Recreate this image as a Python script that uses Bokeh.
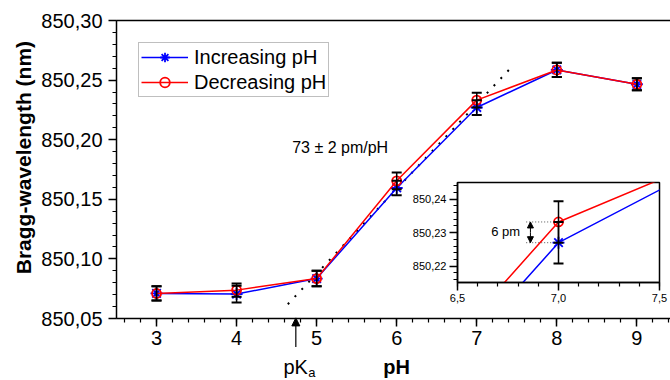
import math
from bokeh.plotting import figure
from bokeh.models import (Range1d, FixedTicker, CustomJSTickFormatter, Label, Arrow,
                          NormalHead, Legend, LegendItem, LinearAxis, Column)
from bokeh.embed import file_html
from bokeh.resources import INLINE

# ---------------- data ----------------
ph = [3, 4, 5, 6, 7, 8, 9]
inc = [850.0710, 850.0705, 850.0835, 850.1595, 850.2270, 850.2585, 850.2465]
dec = [850.0710, 850.0738, 850.0835, 850.1655, 850.2332, 850.2585, 850.2465]
inc_err = [0.0060, 0.0070, 0.0065, 0.0060, 0.0062, 0.0060, 0.0050]
dec_err = [0.0060, 0.0056, 0.0065, 0.0070, 0.0062, 0.0060, 0.0050]
fit_x = [4.64, 7.45]
fit_y = [850.062, 850.262]
pka = 4.74
x_ticks = [3, 4, 5, 6, 7, 8, 9]
y_ticks = [850.05, 850.10, 850.15, 850.20, 850.25, 850.30]
inset_x_ticks = [6.5, 7.0, 7.5]
inset_y_ticks = [850.22, 850.23, 850.24]
delta_x = [6.84, 7.0]   # extent of the 6 pm guide lines
slope_text = "73 ± 2 pm/pH"

FONT = "Liberation Sans"
BLUE = "#0000ff"
RED = "#ff0000"

W, H = 670, 380
L, R, T, B = 116, 0, 20, 62
X0, X1 = 2.5, 9.42
Y0, Y1 = 850.05, 850.30


def comma_fmt(nd):
    return CustomJSTickFormatter(code=f"return tick.toFixed({nd}).replace('.', ',');")


def style_axis(ax, tick_font, major_out, minor_out, standoff):
    ax.axis_line_width = 1.5
    ax.axis_line_color = "black"
    ax.major_tick_line_color = "black"
    ax.minor_tick_line_color = "black"
    ax.major_tick_line_width = 1.5
    ax.minor_tick_line_width = 1.2
    ax.major_tick_in = 0
    ax.major_tick_out = major_out
    ax.minor_tick_in = 0
    ax.minor_tick_out = minor_out
    ax.major_label_text_font = FONT
    ax.major_label_text_font_size = tick_font
    ax.major_label_text_color = "black"
    ax.major_label_standoff = standoff


def text_label(**kw):
    kw.setdefault("text_font", FONT)
    kw.setdefault("text_color", "black")
    return Label(**kw)


def draw_series(fig):
    rbl = fig.line(ph, inc, line_color=BLUE, line_width=1.5)
    rbm = fig.scatter(ph, inc, marker="asterisk", size=12, line_color=BLUE, line_width=1.8)
    rrl = fig.line(ph, dec, line_color=RED, line_width=1.5)
    rrm = fig.scatter(ph, dec, marker="circle", size=9, line_color=RED,
                      fill_color=None, line_width=1.8)
    for vals, errs in ((inc, inc_err), (dec, dec_err)):
        lo = [v - e for v, e in zip(vals, errs)]
        hi = [v + e for v, e in zip(vals, errs)]
        fig.segment(x0=ph, y0=lo, x1=ph, y1=hi, line_color="black", line_width=1.5)
        fig.scatter(ph, lo, marker="dash", size=10, line_color="black", line_width=2)
        fig.scatter(ph, hi, marker="dash", size=10, line_color="black", line_width=2)
    return rbl, rbm, rrl, rrm


# ---------------- main figure ----------------
p = figure(width=W, height=H, x_range=Range1d(X0, X1), y_range=Range1d(Y0, Y1),
           output_backend="svg", toolbar_location=None, frame_align=False,
           min_border_left=L, min_border_right=R, min_border_top=T, min_border_bottom=B)
p.outline_line_color = None
p.grid.visible = False
p.background_fill_color = "white"
p.border_fill_color = "white"

p.xaxis.ticker = FixedTicker(ticks=x_ticks,
                             minor_ticks=[round(2.6 + 0.2 * i, 1) for i in range(35)])
p.yaxis.ticker = FixedTicker(ticks=y_ticks,
                             minor_ticks=[round(850.05 + 0.01 * i, 2) for i in range(26)])
p.yaxis.formatter = comma_fmt(2)
style_axis(p.xaxis[0], "20px", 8, 4, 4)
style_axis(p.yaxis[0], "20px", 8, 4, 6)

top = LinearAxis(ticker=FixedTicker(ticks=[], minor_ticks=[]), major_tick_out=0, minor_tick_out=0,
                 major_label_text_font_size="0px", axis_line_width=1.5)
p.add_layout(top, "above")

p.line(fit_x, fit_y, line_color="black", line_dash="2 8", line_width=2)
rbl, rbm, rrl, rrm = draw_series(p)

legend = Legend(items=[LegendItem(label="Increasing pH", renderers=[rbl, rbm]),
                       LegendItem(label="Decreasing pH", renderers=[rrl, rrm])],
                location="top_left", margin=22, padding=2, spacing=1,
                glyph_width=47, glyph_height=24, label_height=24, label_standoff=6,
                label_text_font=FONT, label_text_font_size="20px", label_text_color="black",
                border_line_color="#808080", border_line_width=1.2,
                background_fill_color="white", background_fill_alpha=1)
p.add_layout(legend)

p.add_layout(text_label(x=5.294, y=850.1934, text=slope_text, text_align="center",
                        text_baseline="middle", text_font_size="16px"))

# ---------------- inset ----------------
ins = figure(width=264, height=128, x_range=Range1d(6.5, 7.5), y_range=Range1d(850.2151, 850.245),
             output_backend="svg", toolbar_location=None, frame_align=False,
             min_border_left=52, min_border_right=10, min_border_top=2, min_border_bottom=26)
ins.grid.visible = False
ins.outline_line_color = "black"
ins.outline_line_width = 1.5
ins.background_fill_color = "white"
ins.border_fill_color = None
ins.xaxis.ticker = FixedTicker(ticks=inset_x_ticks,
                               minor_ticks=[round(6.5 + 0.1 * i, 1) for i in range(11)])
ins.yaxis.ticker = FixedTicker(ticks=inset_y_ticks,
                               minor_ticks=[round(850.216 + 0.002 * i, 3) for i in range(15)])
ins.xaxis.formatter = comma_fmt(1)
ins.yaxis.formatter = comma_fmt(2)
style_axis(ins.xaxis[0], "11px", 8, 4, 3)
style_axis(ins.yaxis[0], "11px", 8, 4, 3)

guide_y = [dec[4], inc[4]]
ins.segment(x0=[delta_x[0]] * 2, y0=guide_y, x1=[delta_x[1]] * 2, y1=guide_y,
            line_color="#555555", line_dash="1 2", line_width=1)
draw_series(ins)
mid = (dec[4] + inc[4]) / 2
for end_y in guide_y:
    ins.add_layout(Arrow(x_start=6.861, y_start=mid, x_end=6.861, y_end=end_y,
                         line_width=1, line_color="black",
                         end=NormalHead(size=6, fill_color="black", line_color="black")))
ins.add_layout(text_label(x=6.81, y=850.2302, text="6 pm", text_align="right",
                          text_baseline="middle", text_font_size="13px"))
ins.styles = {"position": "absolute", "left": "405px", "top": "180px"}

# ---------------- overlay for texts outside the main frame ----------------
kx = (W - L - R) / (X1 - X0)
ky = (H - T - B) / (Y1 - Y0)
ov = figure(width=W, height=H, x_range=Range1d(X0 - L / kx, X1 + R / kx),
            y_range=Range1d(Y0 - B / ky, Y1 + T / ky),
            output_backend="svg", toolbar_location=None, frame_align=False,
            x_axis_location=None, y_axis_location=None, min_border=0)
ov.grid.visible = False
ov.outline_line_color = None
ov.background_fill_color = None
ov.border_fill_color = None
ov.add_layout(text_label(x=1.3375, y=850.185, text="Bragg-wavelength (nm)", angle=math.pi / 2,
                         text_align="center", text_baseline="middle",
                         text_font_size="21px", text_font_style="bold"))
ov.add_layout(text_label(x=4.585, y=850.0092, text="pK", text_align="left",
                         text_baseline="alphabetic", text_font_size="20px"))
ov.add_layout(text_label(x=4.895, y=850.0050, text="a", text_align="left",
                         text_baseline="alphabetic", text_font_size="13px"))
ov.add_layout(text_label(x=6.0, y=850.0092, text="pH", text_align="center",
                         text_baseline="alphabetic", text_font_size="20px",
                         text_font_style="bold"))
ov.add_layout(Arrow(x_start=pka, y_start=850.026, x_end=pka, y_end=850.0505,
                    line_width=1.2, line_color="black",
                    end=NormalHead(size=8, fill_color="black", line_color="black")))
ov.styles = {"position": "absolute", "left": "0px", "top": "0px"}

layout = Column(children=[p, ins, ov], styles={"position": "relative"})

open("out.html", "w").write(file_html(layout, INLINE))
